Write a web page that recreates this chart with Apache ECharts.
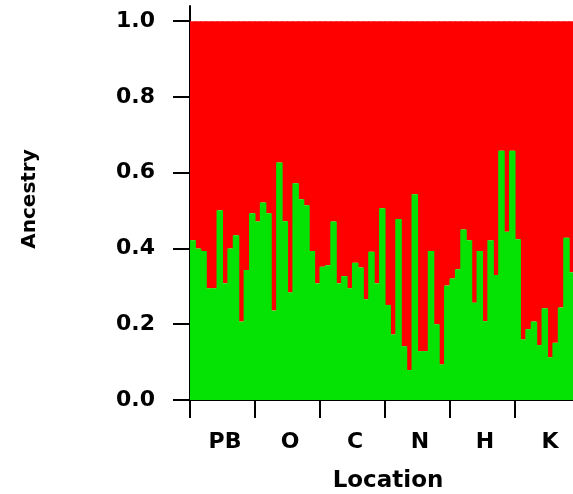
<!DOCTYPE html>
<html>
<head>
<meta charset="utf-8">
<script src="https://cdn.jsdelivr.net/npm/echarts@6/dist/echarts.min.js"></script>
<style>
  html, body { margin: 0; padding: 0; background: #fff; }
  #chart { width: 573px; height: 494px; }
</style>
</head>
<body>
<div id="chart"></div>
<script>
// Location groups (12 individuals each)
const locations = ['PB', 'O', 'C', 'N', 'H', 'K'];

// Ancestry proportion of the green cluster, per individual, by location
const greenPB = [0.422, 0.400, 0.393, 0.295, 0.295, 0.501, 0.308, 0.400, 0.435, 0.207, 0.343, 0.493];
const greenO  = [0.471, 0.521, 0.493, 0.236, 0.627, 0.472, 0.284, 0.572, 0.530, 0.514, 0.393, 0.308];
const greenC  = [0.352, 0.356, 0.471, 0.308, 0.327, 0.295, 0.362, 0.350, 0.266, 0.391, 0.308, 0.506];
const greenN  = [0.251, 0.173, 0.478, 0.142, 0.079, 0.543, 0.129, 0.129, 0.393, 0.200, 0.094, 0.302];
const greenH  = [0.321, 0.345, 0.450, 0.422, 0.257, 0.393, 0.208, 0.422, 0.330, 0.658, 0.444, 0.658];
const greenK  = [0.424, 0.160, 0.187, 0.207, 0.145, 0.242, 0.113, 0.151, 0.244, 0.428, 0.337, 0.337];

// Y tick labels
const yTicks = [0, 0.2, 0.4, 0.6, 0.8, 1.0];

const green = [].concat(greenPB, greenO, greenC, greenN, greenH, greenK);
const red = green.map(v => +(1 - v).toFixed(3));
const individuals = green.map((_, i) => String(i + 1));

const FONT = 'DejaVu Sans, Liberation Sans, Arial, sans-serif';
const GREEN = '#05e305';
const RED = '#ff0000';

const chart = echarts.init(document.getElementById('chart'), null, { renderer: 'canvas' });
chart.setOption({
  animation: false,
  backgroundColor: '#ffffff',
  grid: { left: 190, width: 390, top: 6, bottom: 94, containLabel: false, outerBoundsMode: 'none' },
  xAxis: [
    {
      type: 'category',
      data: individuals,
      show: false,
      boundaryGap: true
    },
    {
      type: 'category',
      data: locations,
      position: 'bottom',
      boundaryGap: true,
      axisLine: { show: true, lineStyle: { color: '#000', width: 2 } },
      axisTick: { show: true, alignWithLabel: false, length: 18, lineStyle: { color: '#000', width: 2 } },
      axisLabel: { color: '#000', fontFamily: FONT, fontWeight: 'bold', fontSize: 22, margin: 31, padding: [0, 0, 0, 5] },
      splitLine: { show: false },
      name: 'Location',
      nameLocation: 'middle',
      nameGap: 70,
      nameTextStyle: { color: '#000', fontFamily: FONT, fontWeight: 'bold', fontSize: 23, padding: [0, 0, 0, 6] }
    }
  ],
  yAxis: {
    type: 'value',
    min: 0,
    max: 1.04,
    axisLine: { show: true, lineStyle: { color: '#000', width: 2 } },
    axisTick: { show: true, length: 17, customValues: yTicks, lineStyle: { color: '#000', width: 2 } },
    axisLabel: {
      customValues: yTicks,
      formatter: v => Number(v).toFixed(1),
      color: '#000', fontFamily: FONT, fontWeight: 'bold', fontSize: 22, margin: 35
    },
    splitLine: { show: false },
    name: 'Ancestry',
    nameLocation: 'middle',
    nameRotate: 90,
    nameGap: 150,
    nameTextStyle: { color: '#000', fontFamily: FONT, fontWeight: 'bold', fontSize: 20, padding: [0, 0, 0, 8] }
  },
  series: [
    {
      name: 'Cluster 2',
      type: 'bar',
      xAxisIndex: 0,
      stack: 'q',
      data: green,
      barWidth: '120%',
      itemStyle: { color: GREEN },
      silent: true,
      z: 3
    },
    {
      name: 'Cluster 1',
      type: 'bar',
      xAxisIndex: 0,
      stack: 'q',
      data: red,
      barWidth: '120%',
      itemStyle: { color: RED },
      silent: true,
      z: 2
    }
  ]
});
</script>
</body>
</html>
